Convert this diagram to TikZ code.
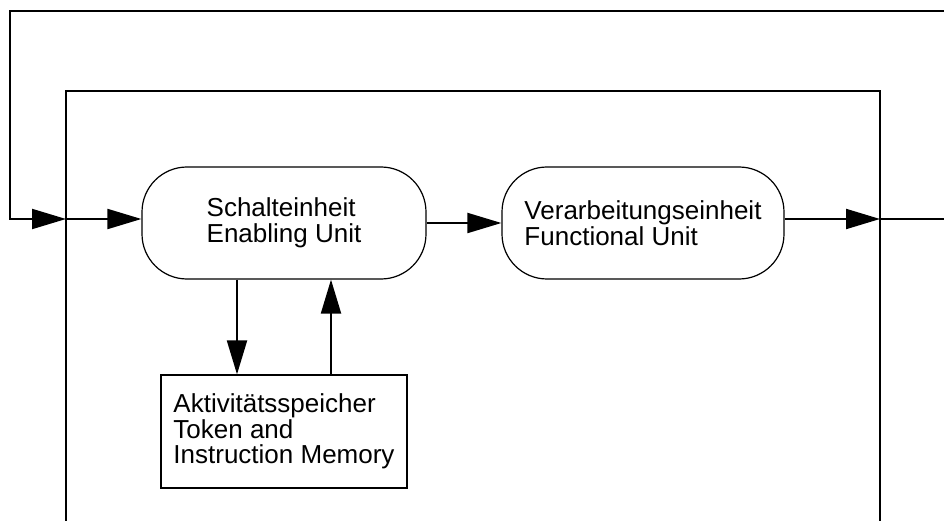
\documentclass[tikz,border=0pt]{standalone}
\usepackage{fontspec}
\setmainfont{Liberation Sans}
\usetikzlibrary{arrows.meta}
\begin{document}
\begin{tikzpicture}[x=1pt,y=-1pt,
  conn/.style={line width=2pt, -{Triangle[length=34pt,width=20pt]}},
  plainline/.style={line width=2pt},
  frameline/.style={line width=1.2pt},
  unit/.style={draw, line width=1.2pt, rounded corners=45pt, minimum height=112pt,
    inner sep=0pt, align=left, font=\fontsize{26}{26.5}\selectfont},
  membox/.style={draw, line width=1.2pt, minimum width=246pt, minimum height=113pt,
    inner sep=0pt, align=left, font=\fontsize{26}{25.5}\selectfont}]
\useasboundingbox (0,0) rectangle (944,521);
% units
\node[unit, minimum width=284pt] (eu) at (284,223) {Schalteinheit\\Enabling Unit};
\node[unit, minimum width=282pt] (fu) at (643,223) {Verarbeitungseinheit\\Functional Unit};
\node[membox] (mem) at (284,431.5) {Aktivitätsspeicher\\Token and\\Instruction Memory};
% inner frame
\coordinate (fbl) at (66,521);
\coordinate (ftl) at (66,91);
\coordinate (ftr) at (880,91);
\coordinate (fbr) at (880,521);
\draw[frameline] (fbl) -- (ftl) -- (ftr) -- (fbr);
% ports
\coordinate (in) at (66,219);
\coordinate (out) at (880,219);
\coordinate (ro) at (944,219);
% feedback loop
\coordinate (r1) at (944,11);
\coordinate (l1) at (10,11);
\coordinate (l2) at (10,219);
\draw[conn] (r1) -- (l1) -- (l2) -- (in);
\draw[conn] (in) -- (eu.west |- in);
\draw[conn] (eu.east) -- (fu.west);
\draw[conn] (fu.east |- out) -- (out);
\draw[plainline] (out) -- (ro);
% memory arrows
\coordinate (dx) at (237,0);
\coordinate (ux) at (331,0);
\draw[conn] (dx |- eu.south) -- (dx |- mem.north);
\draw[conn] (ux |- mem.north) -- (ux |- eu.south);
\end{tikzpicture}
\end{document}
